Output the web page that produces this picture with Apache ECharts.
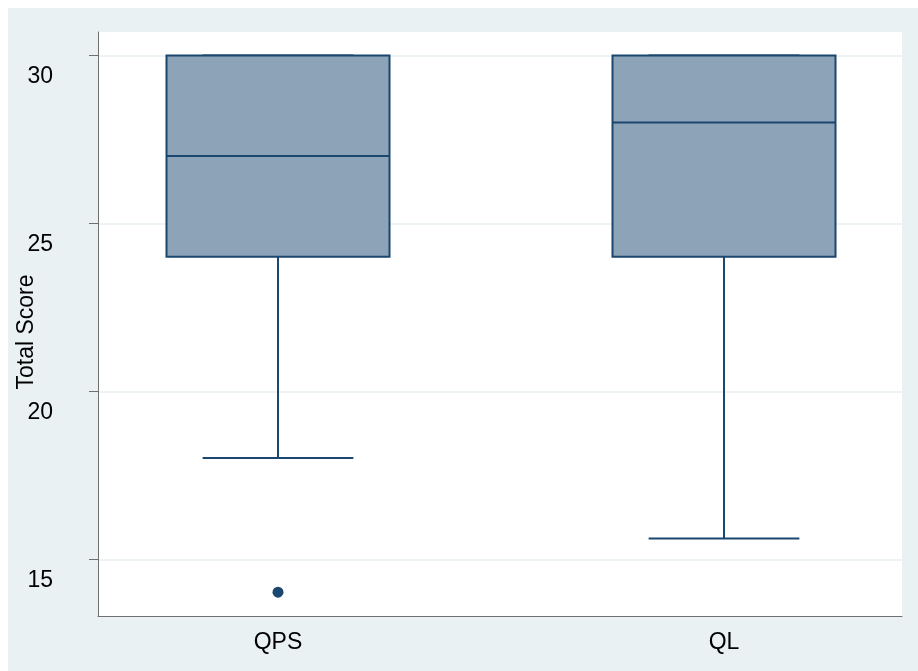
<!DOCTYPE html>
<html>
<head>
<meta charset="utf-8">
<script src="https://cdn.jsdelivr.net/npm/echarts@6/dist/echarts.min.js"></script>
<style>
  html, body { background: #ffffff; }
  body { margin: 8px 0 0 8px; }
  #chart { width: 910px; height: 663px; }
</style>
</head>
<body>
<div id="chart"></div>
<script>
// Box plot of total scores per group
const categories = ['QPS', 'QL'];
const lowerWhisker = [18, 15.6];
const q1 = [24, 24];
const median = [27, 28];
const q3 = [30, 30];
const upperWhisker = [30, 30];
const outlierGroup = [0];
const outlierValue = [14];
const yTickValues = [15, 20, 25, 30];
const yAxisTitle = 'Total Score';

const FONT = "'Liberation Sans', Arial, sans-serif";
const NAVY = '#1a476f';
const BOX_FILL = '#8da3b8';
const AXIS_GREY = '#707070';
const GRID_LINE = '#e8f0f2';

// visible range of the value axis
const Y_MIN = 13.29, Y_MAX = 30.70;

const boxData = categories.map((c, i) => [i, lowerWhisker[i], q1[i], median[i], q3[i], upperWhisker[i]]);
const outlierData = outlierGroup.map((g, i) => [g, outlierValue[i]]);

function renderBox(params, api) {
  const idx = api.value(0);
  const band = api.size([1, 0])[0];
  const halfBox = band * 0.25;
  const halfCap = band * 0.169;
  const pLow = api.coord([idx, api.value(1)]);
  const pQ1 = api.coord([idx, api.value(2)]);
  const pMed = api.coord([idx, api.value(3)]);
  const pQ3 = api.coord([idx, api.value(4)]);
  const pHigh = api.coord([idx, api.value(5)]);
  const cx = pQ1[0];
  const line = { stroke: NAVY, lineWidth: 2, fill: null };
  return {
    type: 'group',
    children: [
      { type: 'line', shape: { x1: cx, y1: pQ1[1], x2: cx, y2: pLow[1] }, style: line },
      { type: 'line', shape: { x1: cx - halfCap, y1: pLow[1], x2: cx + halfCap, y2: pLow[1] }, style: line },
      { type: 'line', shape: { x1: cx, y1: pQ3[1], x2: cx, y2: pHigh[1] }, style: line },
      { type: 'line', shape: { x1: cx - halfCap, y1: pHigh[1], x2: cx + halfCap, y2: pHigh[1] }, style: line },
      { type: 'rect', shape: { x: cx - halfBox, y: pQ3[1], width: halfBox * 2, height: pQ1[1] - pQ3[1] },
        style: { fill: BOX_FILL, stroke: NAVY, lineWidth: 2 } },
      { type: 'line', shape: { x1: cx - halfBox, y1: pMed[1], x2: cx + halfBox, y2: pMed[1] }, style: line }
    ]
  };
}

const chart = echarts.init(document.getElementById('chart'), null, { renderer: 'canvas' });

const free = { outerBoundsMode: 'none', containLabel: false };

chart.setOption({
  backgroundColor: '#eaf1f3',
  animation: false,
  textStyle: { fontFamily: FONT },
  grid: [
    // plot frame
    Object.assign({ left: 90, top: 24, right: 16, bottom: 55, show: true, backgroundColor: '#ffffff', borderWidth: 0 }, free),
    // tick scale (10..35 in steps of 5, same pixel scale as the frame)
    Object.assign({ left: 90, right: 16, top: -120.45, bottom: -56.25 }, free),
    // groups
    Object.assign({ left: 47, width: 892, top: 24, bottom: 55 }, free),
    // tick labels, set slightly below their ticks
    Object.assign({ left: 90, right: 16, top: -99.45, bottom: -77.25 }, free)
  ],
  xAxis: [
    { gridIndex: 0, type: 'value', min: 0, max: 1,
      axisLine: { show: true, onZero: false, lineStyle: { color: AXIS_GREY, width: 1 } },
      axisTick: { show: false }, axisLabel: { show: false }, splitLine: { show: false } },
    { gridIndex: 1, type: 'value', min: 0, max: 1, show: false },
    { gridIndex: 2, type: 'category', data: categories, boundaryGap: true,
      axisLine: { show: false }, axisTick: { show: false }, splitLine: { show: false },
      axisLabel: { show: true, margin: 15, color: '#000', fontSize: 23, fontFamily: FONT } },
    { gridIndex: 3, type: 'value', min: 0, max: 1, show: false }
  ],
  yAxis: [
    { gridIndex: 0, type: 'value', min: Y_MIN, max: Y_MAX,
      axisLine: { show: true, onZero: false, lineStyle: { color: AXIS_GREY, width: 1 } },
      axisTick: { show: false }, axisLabel: { show: false }, splitLine: { show: false },
      name: yAxisTitle, nameLocation: 'middle', nameRotate: 90, nameGap: 60,
      nameTextStyle: { color: '#000', fontSize: 23, fontFamily: FONT, padding: [0, 16, 0, 0] } },
    { gridIndex: 1, type: 'value', min: 10, max: 35, interval: 5,
      axisLine: { show: false },
      axisTick: { show: true, inside: false, length: 9, lineStyle: { color: AXIS_GREY, width: 1 } },
      axisLabel: { show: false },
      splitLine: { show: true, lineStyle: { color: GRID_LINE, width: 1.5 } } },
    { gridIndex: 2, type: 'value', min: Y_MIN, max: Y_MAX, show: false },
    { gridIndex: 3, type: 'value', min: 10, max: 35, interval: 5,
      axisLine: { show: false }, axisTick: { show: false }, splitLine: { show: false },
      axisLabel: { show: true, margin: 45, color: '#000', fontSize: 23, fontFamily: FONT,
        align: 'right', hideOverlap: false,
        formatter: v => (yTickValues.indexOf(v) >= 0 ? String(v) : '') } }
  ],
  series: [
    { type: 'custom', xAxisIndex: 2, yAxisIndex: 2, data: boxData, renderItem: renderBox, z: 3 },
    { type: 'scatter', xAxisIndex: 2, yAxisIndex: 2, data: outlierData, symbol: 'circle',
      symbolSize: 11, itemStyle: { color: NAVY, opacity: 1 }, z: 4 }
  ]
});
</script>
</body>
</html>
